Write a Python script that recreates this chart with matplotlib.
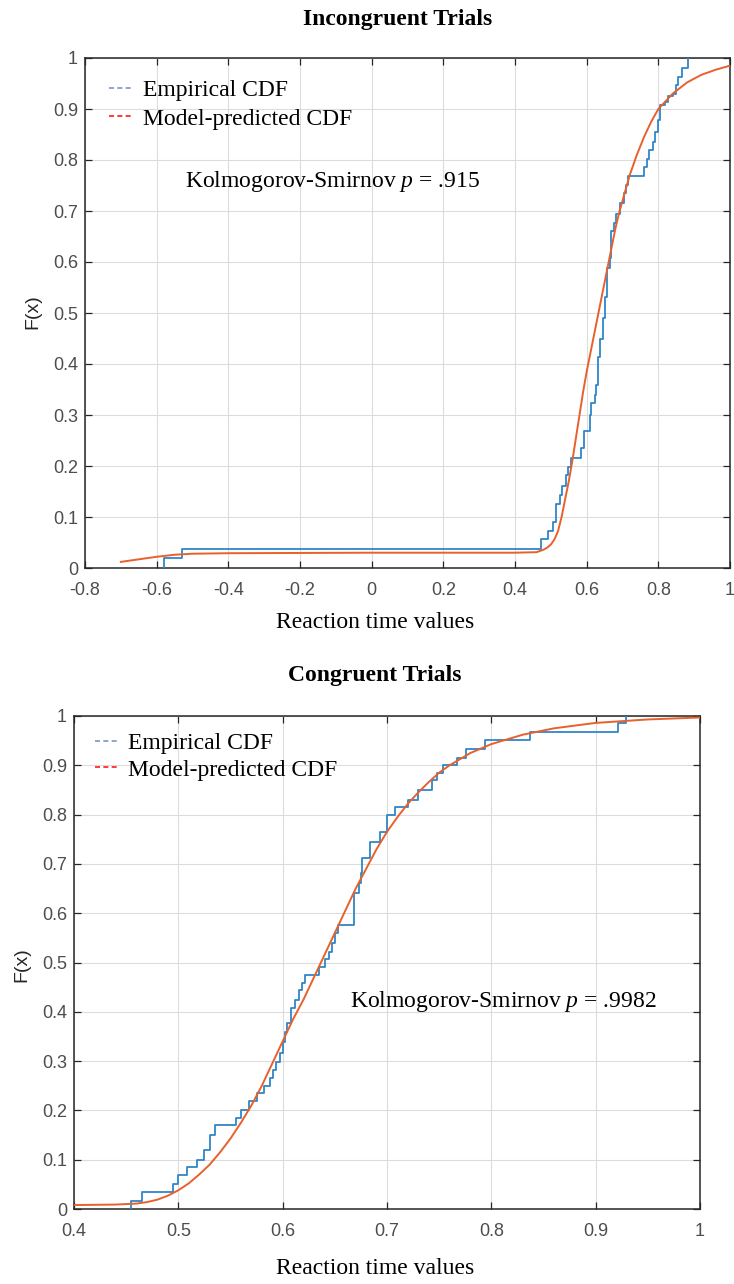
import matplotlib

matplotlib.use("Agg")
import matplotlib.pyplot as plt
from matplotlib.lines import Line2D

SERIF = "Liberation Serif"
SANS = "Liberation Sans"

plt.rcParams["mathtext.fontset"] = "custom"
plt.rcParams["mathtext.rm"] = SERIF
plt.rcParams["mathtext.it"] = SERIF + ":italic"

# ---- Incongruent trials (top panel) ----
INC_EMP_X = [-0.580, -0.580, -0.529, 0.472, 0.493, 0.505, 0.514, 0.525, 0.530, 0.542,
             0.548, 0.555, 0.585, 0.592, 0.609, 0.613, 0.623, 0.627, 0.632, 0.638,
             0.645, 0.650, 0.657, 0.664, 0.667, 0.676, 0.683, 0.692, 0.703, 0.709,
             0.715, 0.759, 0.767, 0.773, 0.785, 0.792, 0.800, 0.804, 0.818, 0.827,
             0.841, 0.850, 0.855, 0.867, 0.883]
INC_EMP_F = [0.000, 0.020, 0.037, 0.056, 0.073, 0.091, 0.125, 0.143, 0.161, 0.182,
             0.199, 0.215, 0.235, 0.268, 0.300, 0.323, 0.339, 0.359, 0.414, 0.450,
             0.490, 0.532, 0.588, 0.607, 0.661, 0.676, 0.695, 0.715, 0.735, 0.751,
             0.769, 0.787, 0.801, 0.820, 0.836, 0.855, 0.878, 0.908, 0.914, 0.925,
             0.929, 0.947, 0.963, 0.980, 1.000]
INC_MODEL_X = [-0.70, -0.65, -0.60, -0.55, -0.50, -0.40, 0.00, 0.40, 0.46, 0.48, 0.49,
               0.50, 0.51, 0.52, 0.53, 0.54, 0.55, 0.56, 0.57, 0.58, 0.59, 0.60, 0.61,
               0.62, 0.63, 0.64, 0.65, 0.66, 0.67, 0.68, 0.69, 0.70, 0.72, 0.74, 0.76,
               0.78, 0.80, 0.84, 0.88, 0.92, 0.96, 1.00]
INC_MODEL_F = [0.012, 0.017, 0.022, 0.026, 0.028, 0.029, 0.030, 0.030, 0.031, 0.036,
               0.040, 0.046, 0.056, 0.072, 0.100, 0.135, 0.170, 0.210, 0.255, 0.300,
               0.345, 0.385, 0.420, 0.455, 0.490, 0.525, 0.560, 0.595, 0.630, 0.665,
               0.695, 0.720, 0.770, 0.810, 0.845, 0.875, 0.900, 0.930, 0.952, 0.967,
               0.977, 0.985]
INC_XTICKS = [-0.8, -0.6, -0.4, -0.2, 0.0, 0.2, 0.4, 0.6, 0.8, 1.0]
INC_XTICKLABELS = ["-0.8", "-0.6", "-0.4", "-0.2", "0", "0.2", "0.4", "0.6", "0.8", "1"]
INC_KS_TEXT = "Kolmogorov-Smirnov $p$ = .915"

# ---- Congruent trials (bottom panel) ----
CON_EMP_X = [0.455, 0.455, 0.465, 0.495, 0.500, 0.508, 0.518, 0.525, 0.530, 0.535,
             0.555, 0.560, 0.568, 0.575, 0.582, 0.588, 0.591, 0.594, 0.597, 0.600,
             0.602, 0.604, 0.608, 0.612, 0.616, 0.619, 0.621, 0.635, 0.641, 0.644,
             0.647, 0.650, 0.653, 0.668, 0.673, 0.675, 0.676, 0.684, 0.693, 0.700,
             0.708, 0.720, 0.730, 0.743, 0.748, 0.754, 0.767, 0.776, 0.794, 0.837,
             0.921, 0.929]
CON_EMP_F = [0.000, 0.017, 0.034, 0.050, 0.068, 0.085, 0.100, 0.120, 0.150, 0.170,
             0.185, 0.200, 0.220, 0.235, 0.250, 0.265, 0.282, 0.299, 0.316, 0.339,
             0.360, 0.377, 0.407, 0.424, 0.444, 0.458, 0.475, 0.491, 0.508, 0.522,
             0.539, 0.559, 0.576, 0.640, 0.661, 0.681, 0.711, 0.745, 0.765, 0.800,
             0.816, 0.830, 0.850, 0.870, 0.884, 0.900, 0.914, 0.934, 0.951, 0.968,
             0.985, 1.000]
CON_MODEL_X = [0.40, 0.44, 0.46, 0.47, 0.48, 0.49, 0.50, 0.51, 0.52, 0.53, 0.54, 0.55,
               0.56, 0.57, 0.58, 0.59, 0.60, 0.61, 0.62, 0.63, 0.64, 0.65, 0.66, 0.67,
               0.68, 0.69, 0.70, 0.71, 0.72, 0.73, 0.74, 0.75, 0.76, 0.78, 0.80, 0.83,
               0.86, 0.90, 0.95, 1.00]
CON_MODEL_F = [0.008, 0.009, 0.011, 0.014, 0.019, 0.027, 0.038, 0.052, 0.070, 0.090,
               0.115, 0.143, 0.175, 0.210, 0.250, 0.295, 0.340, 0.385, 0.425, 0.470,
               0.515, 0.560, 0.605, 0.650, 0.690, 0.730, 0.765, 0.795, 0.822, 0.845,
               0.866, 0.885, 0.900, 0.925, 0.943, 0.962, 0.975, 0.986, 0.993, 0.997]
CON_XTICKS = [0.4, 0.5, 0.6, 0.7, 0.8, 0.9, 1.0]
CON_XTICKLABELS = ["0.4", "0.5", "0.6", "0.7", "0.8", "0.9", "1"]
CON_KS_TEXT = "Kolmogorov-Smirnov $p$ = .9982"

YTICKS = [0.0, 0.1, 0.2, 0.3, 0.4, 0.5, 0.6, 0.7, 0.8, 0.9, 1.0]
YTICKLABELS = ["0", "0.1", "0.2", "0.3", "0.4", "0.5", "0.6", "0.7", "0.8", "0.9", "1"]
LEGEND_LABELS = ["Empirical CDF", "Model-predicted CDF"]

EMP_COLOR = "#2f86c8"
MODEL_COLOR = "#e8602c"
TICK_COLOR = "#4d4d4d"
FIG_W, FIG_H = 734, 1284


def px_rect(left, top, right, bottom):
    return [left / FIG_W, 1 - bottom / FIG_H, (right - left) / FIG_W, (bottom - top) / FIG_H]


def draw_panel(ax, emp_x, emp_f, mod_x, mod_f, xticks, xlabels, xlim, legend_anchor, spacing):
    ax.step(emp_x, emp_f, where="post", color=EMP_COLOR, linewidth=1.3, zorder=3)
    ax.plot(mod_x, mod_f, color=MODEL_COLOR, linewidth=1.4, zorder=4)

    ax.set_xlim(*xlim)
    ax.set_ylim(0, 1)
    ax.set_xticks(xticks)
    ax.set_xticklabels(xlabels)
    ax.set_yticks(YTICKS)
    ax.set_yticklabels(YTICKLABELS)
    ax.grid(True, color="#dcdcdc", linewidth=0.8)
    ax.set_axisbelow(True)

    ax.tick_params(direction="in", length=5, width=0.9, top=True, right=True,
                   labelsize=13, labelcolor=TICK_COLOR, color="#262626")
    ax.tick_params(axis="x", pad=10)
    ax.tick_params(axis="y", pad=5)
    for label in ax.get_xticklabels() + ax.get_yticklabels():
        label.set_fontfamily(SANS)
    for spine in ax.spines.values():
        spine.set_color("#262626")
        spine.set_linewidth(1.1)

    handles = [
        Line2D([], [], color="#7a95c8", linestyle=(0, (3, 2)), linewidth=1.2),
        Line2D([], [], color="#ff1a1a", linestyle=(0, (3, 2)), linewidth=1.2),
    ]
    ax.legend(handles, LEGEND_LABELS, loc="upper left", bbox_to_anchor=legend_anchor,
              frameon=False, handlelength=1.0, handletextpad=0.4, labelspacing=spacing,
              prop={"family": SERIF, "size": 17})


fig = plt.figure(figsize=(FIG_W / 100, FIG_H / 100), dpi=100)

ax_top = fig.add_axes(px_rect(85, 58, 730, 568))
draw_panel(ax_top, INC_EMP_X, INC_EMP_F, INC_MODEL_X, INC_MODEL_F,
           INC_XTICKS, INC_XTICKLABELS, (-0.8, 1.0), (0.005, 1.0), 0.31)
ax_top.text(185 / FIG_W, 1 - 181 / FIG_H, INC_KS_TEXT, transform=fig.transFigure,
            family=SERIF, fontsize=17, va="center", ha="left")

ax_bot = fig.add_axes(px_rect(74, 716, 700, 1209))
draw_panel(ax_bot, CON_EMP_X, CON_EMP_F, CON_MODEL_X, CON_MODEL_F,
           CON_XTICKS, CON_XTICKLABELS, (0.4, 1.0), (0.0, 1.01), 0.22)
ax_bot.text(350 / FIG_W, 1 - 1002 / FIG_H, CON_KS_TEXT, transform=fig.transFigure,
            family=SERIF, fontsize=17, va="center", ha="left")

# titles and axis labels placed in figure pixels
fig.text(398 / FIG_W, 1 - 19 / FIG_H, "Incongruent Trials", family=SERIF,
         fontsize=17, fontweight="bold", ha="center", va="center")
fig.text(375 / FIG_W, 1 - 676 / FIG_H, "Congruent Trials", family=SERIF,
         fontsize=17, fontweight="bold", ha="center", va="center")
fig.text(375 / FIG_W, 1 - 622 / FIG_H, "Reaction time values", family=SERIF,
         fontsize=17, ha="center", va="center")
fig.text(375 / FIG_W, 1 - 1268 / FIG_H, "Reaction time values", family=SERIF,
         fontsize=17, ha="center", va="center")
fig.text(33 / FIG_W, 1 - 312 / FIG_H, "F(x)", family=SANS, fontsize=14,
         rotation=90, ha="center", va="center", color="#262626")
fig.text(22 / FIG_W, 1 - 965 / FIG_H, "F(x)", family=SANS, fontsize=14,
         rotation=90, ha="center", va="center", color="#262626")

fig.savefig("out.png", dpi=100)
